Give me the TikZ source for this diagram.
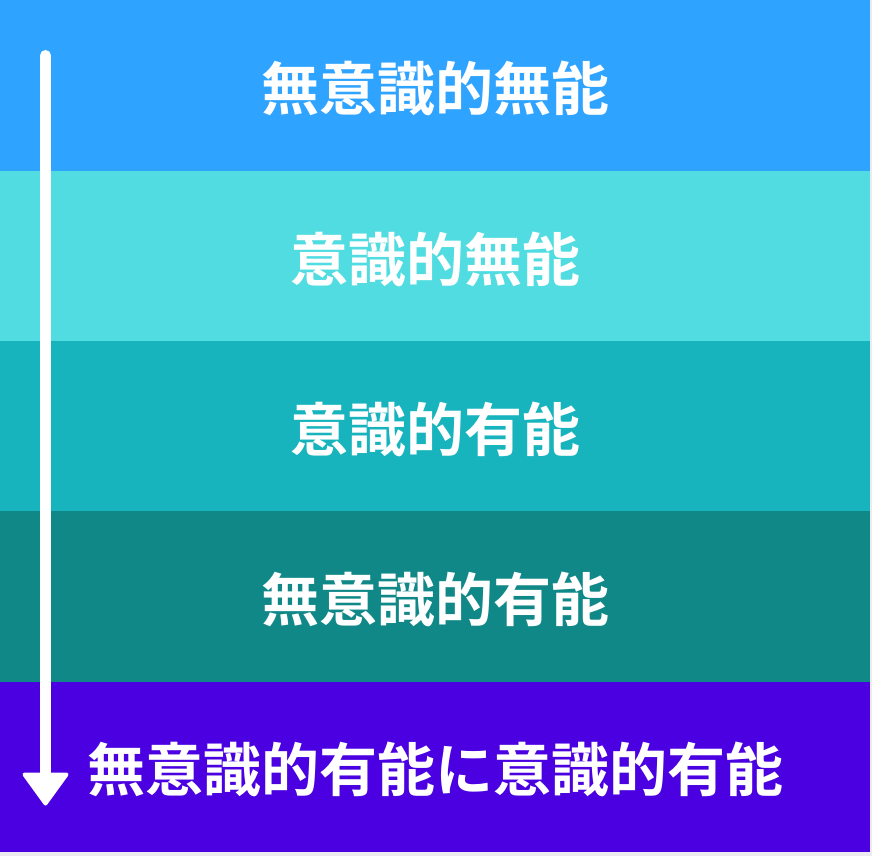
\documentclass[tikz,border=0pt]{standalone}
\usepackage{fontspec}
\newfontfamily\cjk{Noto Sans CJK JP Bold}
\definecolor{bandA}{RGB}{46,163,255}
\definecolor{bandB}{RGB}{80,220,224}
\definecolor{bandC}{RGB}{23,180,190}
\definecolor{bandD}{RGB}{17,136,136}
\definecolor{bandE}{RGB}{74,0,224}
\definecolor{edgebg}{RGB}{236,236,240}
\tikzset{
  band/.style={draw=none},
  lbl/.style={text=white, font=\cjk\fontsize{58}{60}\selectfont, inner sep=0pt, anchor=center},
}
\begin{document}
\begin{tikzpicture}[x=1pt,y=-1pt]
\useasboundingbox (0,0) rectangle (872,856);
\fill[edgebg] (0,0) rectangle (872,856);
\fill[bandA] (0,0) rectangle (870,170.5);
\fill[bandB] (0,170.5) rectangle (870,341);
\fill[bandC] (0,341) rectangle (870,511);
\fill[bandD] (0,511) rectangle (870,682);
\fill[bandE] (0,682) rectangle (870,852);
\node[lbl] (l1) at (435,88) {無意識的無能};
\node[lbl] (l2) at (435,259) {意識的無能};
\node[lbl] (l3) at (435,429) {意識的有能};
\node[lbl] (l4) at (435,599) {無意識的有能};
\node[lbl] (l5) at (435,769) {無意識的有能に意識的有能};
\coordinate (astart) at (45.5,55.5);
\coordinate (aend) at (45.5,776);
\draw[white, line width=11pt, line cap=round] (astart) -- (aend);
\fill[white, draw=white, line width=4pt, line join=round] (24.5,774.5) -- (66.5,774.5) -- (45.5,803.5) -- cycle;
\end{tikzpicture}
\end{document}
